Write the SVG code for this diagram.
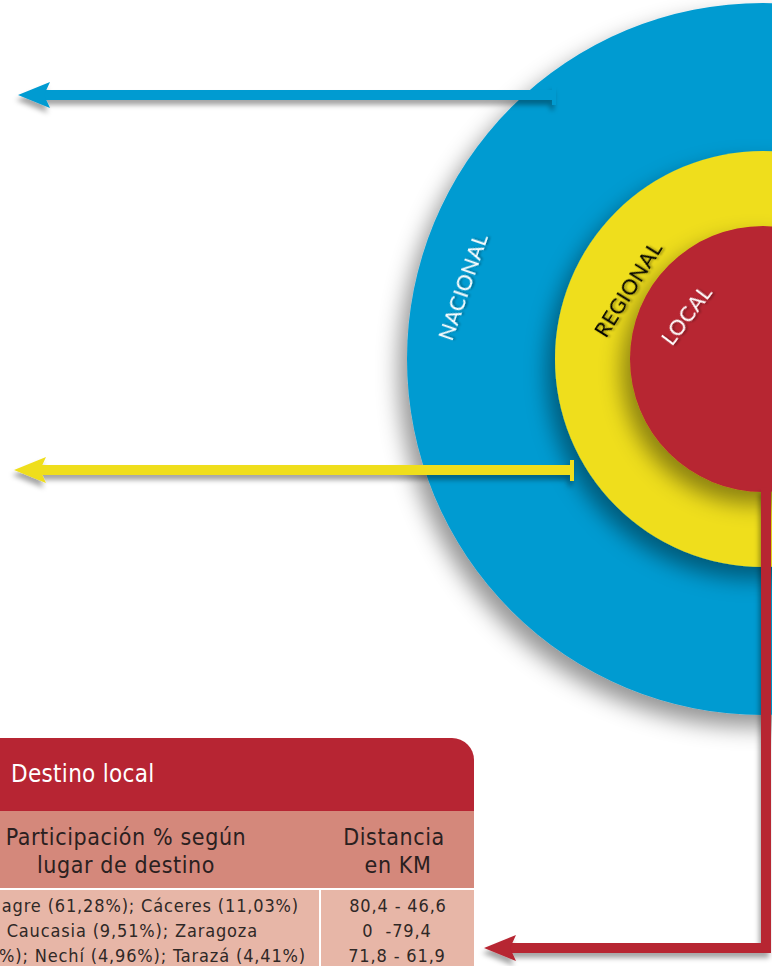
<svg xmlns="http://www.w3.org/2000/svg" width="772" height="966" viewBox="0 0 772 966">
<defs>
<style>
.lbl{font-family:Lato,"Open Sans","DejaVu Sans",sans-serif;font-size:21px;letter-spacing:0.5px}
.tbl{font-family:"DejaVu Sans Condensed","DejaVu Sans","Noto Sans",sans-serif}
.hd{font-size:24px;letter-spacing:0.3px}
.bd{font-size:18px;letter-spacing:0.85px;fill:#2f2826}
.sub{font-size:23px;letter-spacing:0.6px;fill:#2a2020}
</style>
<filter id="sh" x="-20%" y="-20%" width="140%" height="140%">
<feDropShadow dx="-8" dy="12" stdDeviation="11" flood-color="#000" flood-opacity="0.42"/>
</filter>
<filter id="ash" x="-5%" y="-50%" width="110%" height="200%">
<feDropShadow dx="-2" dy="5" stdDeviation="2.5" flood-color="#000" flood-opacity="0.35"/>
</filter>
<filter id="tsh" x="-20%" y="-20%" width="140%" height="140%">
<feDropShadow dx="1" dy="2" stdDeviation="1.2" flood-color="#000" flood-opacity="0.35"/>
</filter>
<marker id="ah-blue" markerUnits="userSpaceOnUse" markerWidth="34" markerHeight="28" refX="8" refY="13" orient="auto"><path d="M0,0 L32,13 L0,26 L6,13 Z" fill="#009bd1"/></marker>
<marker id="ah-yellow" markerUnits="userSpaceOnUse" markerWidth="34" markerHeight="28" refX="8" refY="13" orient="auto"><path d="M0,0 L32,13 L0,26 L6,13 Z" fill="#efde1f"/></marker>
<marker id="ah-red" markerUnits="userSpaceOnUse" markerWidth="34" markerHeight="28" refX="8" refY="13" orient="auto"><path d="M0,0 L32,13 L0,26 L6,13 Z" fill="#b72533"/></marker>
</defs>
<rect width="772" height="966" fill="#ffffff"/>
<g id="node-nacional">
<circle cx="763" cy="359" r="356" fill="#009bd1" filter="url(#sh)"/>
<text class="lbl" x="452" y="342" fill="#ffffff" transform="rotate(-71 452 342)" filter="url(#tsh)">NACIONAL</text>
</g>
<g id="node-regional">
<circle cx="763" cy="359" r="208" fill="#efde1f" filter="url(#sh)"/>
<text class="lbl" x="606" y="339" fill="#000000" transform="rotate(-58 606 339)" filter="url(#tsh)">REGIONAL</text>
</g>
<g id="node-local">
<circle cx="763" cy="359" r="133" fill="#b72533" filter="url(#sh)"/>
<text class="lbl" x="672" y="347" fill="#ffffff" transform="rotate(-53 672 347)" filter="url(#tsh)">LOCAL</text>
</g>
<g id="node-table" class="tbl">
<path d="M-10,738 H452 A22,22 0 0 1 474,760 V811 H-10 Z" fill="#b72533"/>
<rect x="-10" y="811" width="484" height="77" fill="#d4887b"/>
<rect x="-10" y="890" width="484" height="76" fill="#e7b6a7"/>
<rect x="319" y="890" width="2" height="76" fill="#ffffff"/>
<text class="hd" x="11" y="782" fill="#ffffff">Destino local</text>
<text class="sub" x="126" y="845" text-anchor="middle">Participación % según</text>
<text class="sub" x="126" y="873" text-anchor="middle">lugar de destino</text>
<text class="sub" x="394" y="845" text-anchor="middle">Distancia</text>
<text class="sub" x="398" y="873" text-anchor="middle">en KM</text>
<text class="bd" x="299" y="912" text-anchor="end">agre (61,28%); Cáceres (11,03%)</text>
<text class="bd" x="258" y="937" text-anchor="end">Caucasia (9,51%); Zaragoza</text>
<text class="bd" x="306" y="962" text-anchor="end">%); Nechí (4,96%); Tarazá (4,41%)</text>
<text class="bd" x="398" y="912" text-anchor="middle">80,4 - 46,6</text>
<text class="bd" x="397" y="937" text-anchor="middle" xml:space="preserve">0  -79,4</text>
<text class="bd" x="397" y="962" text-anchor="middle">71,8 - 61,9</text>
</g>
<g id="connectors" fill="none" stroke-linejoin="miter" filter="url(#ash)">
<path d="M554,95 H42" stroke="#009bd1" stroke-width="10" marker-end="url(#ah-blue)"/>
<path d="M554,86 V105" stroke="#009bd1" stroke-width="4"/>
<path d="M572,470 H38" stroke="#efde1f" stroke-width="10" marker-end="url(#ah-yellow)"/>
<path d="M572,460 V481" stroke="#efde1f" stroke-width="4"/>
<path d="M766,488 V948 H508" stroke="#b72533" stroke-width="10" marker-end="url(#ah-red)"/>
</g>
</svg>
